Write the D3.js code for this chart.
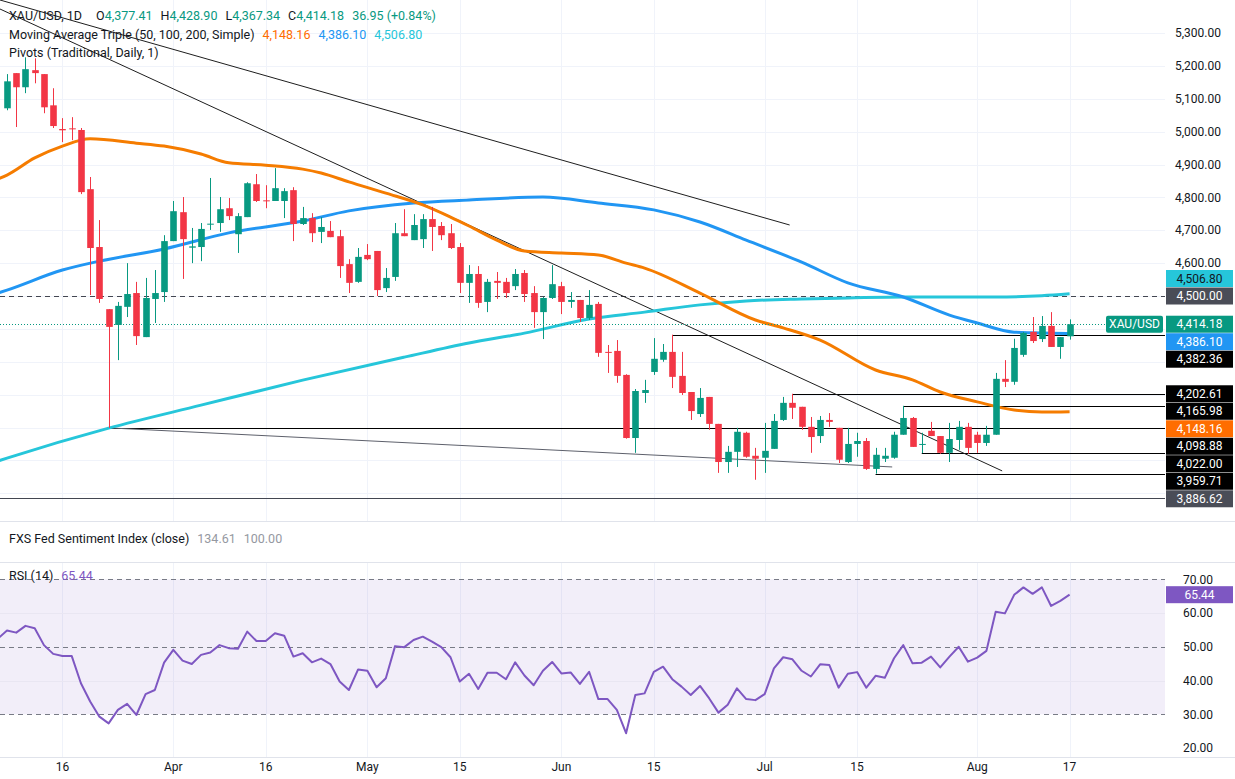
<!DOCTYPE html>
<meta charset="utf-8">
<script src="https://cdn.jsdelivr.net/npm/d3@7/dist/d3.min.js"></script>
<style>
  body { margin: 0; background: #ffffff; }
  text { font-family: Roboto, "Open Sans", sans-serif; }
</style>
<body>
<script>

// XAU/USD daily candles (first candle = Mar 6, last = Aug 17)
var open = [5071,5178,5135,5187,5175,5080,5008,5010,5005,4825,
            4649,4460,4412,4467,4509,4375,4491,4512,4667,4755,
            4647,4649,4717,4722,4767,4688,4740,4840,4791,4789,
            4789,4822,4719,4737,4695,4698,4682,4597,4543,4625,
            4637,4524,4558,4691,4670,4673,4734,4713,4691,4649,
            4540,4567,4482,4546,4543,4530,4570,4509,4451,4494,
            4530,4482,4488,4433,4476,4330,4333,4260,4068,4205,
            4269,4306,4330,4257,4208,4141,4193,4111,3995,4026,
            4084,4014,4008,4035,4123,4175,4163,4102,4074,4123,
            4099,3995,4050,4059,3974,4005,4008,4078,4129,4047,
            4090,4074,4023,4062,4102,4078,4053,4078,4248,4239,
            4321,4391,4369,4409,4345,4377.41];
var high = [5175,5178,5226,5223,5175,5132,5041,5044,5011,4862,
            4731,4460,4482,4600,4543,4555,4579,4685,4789,4801,
            4707,4722,4859,4801,4798,4752,4846,4871,4837,4889,
            4828,4831,4771,4752,4740,4728,4701,4612,4646,4658,
            4637,4585,4722,4764,4749,4749,4771,4725,4719,4661,
            4594,4591,4552,4573,4555,4582,4579,4530,4497,4594,
            4543,4512,4488,4518,4482,4351,4366,4262,4217,4245,
            4372,4354,4382.36,4330,4208,4220,4193,4111,4044,4099,
            4087,4038,4114,4141,4193,4202.61,4163,4132,4135,4144,
            4099,4099,4084,4068,4038,4038,4087,4165.98,4132,4084,
            4117,4074,4114,4120,4114,4087,4105,4266,4305,4370,
            4391,4436,4439,4451,4375,4428.90];
var low = [5065,5014,5117,5147,5056,5011,4968,4974,4810,4503,
           4479,4098.88,4305,4436,4351,4375,4418,4482,4667,4552,
           4600,4606,4701,4695,4731,4631,4740,4786,4767,4789,
           4737,4667,4716,4664,4661,4679,4555,4509,4540,4609,
           4500,4512,4546,4682,4670,4646,4637,4670,4643,4509,
           4479,4464,4451,4491,4494,4518,4482,4403,4369,4491,
           4445,4464,4421,4427,4315,4266,4236,4066,4023,4175,
           4260,4300,4220,4199,4123,4132,4093,3962,3962,3980,
           4008,3941,3962,4035,4120,4126,4093,4023,4053,4102,
           3992,3992,4011,3971,3959.71,3995,4005,4078,4041,4022,
           4074,4020,3995,4032,4020,4023,4044,4078,4223,4230,
           4315,4357,4360,4345,4309,4367.34];
var close = [5153,5135,5190,5178,5074,5017,5004,5007,4816,4646,
             4491,4406,4470,4506,4378,4494,4509,4667,4758,4673,
             4651,4704,4720,4764,4743,4743,4843,4789,4788,4828,
             4819,4719,4737,4691,4710,4679,4591,4540,4619,4612,
             4518,4555,4691,4682,4716,4734,4710,4685,4646,4540,
             4567,4479,4543,4540,4509,4567,4506,4451,4494,4536,
             4482,4488,4433,4473,4327,4327,4257,4068,4211,4214,
             4309,4330,4254,4205,4150,4190,4111,3995,4026,4087,
             4011,4005,4029,4120,4175,4160,4102,4071,4123,4117,
             4002,4050,4059,3974,4017,4014,4078,4129,4041,4050,
             4074,4023,4065,4102,4038,4053,4078,4248,4239,4342,
             4388,4363,4409,4345,4375,4414.18];

// RSI(14), one value per candle; the first value is the day before the first candle
var rsi = [52.4,
           54.8,54.2,56.2,55.5,50.5,47.9,47.3,47.3,39.2,33.8,
           29.3,27.3,31.3,33.1,29.8,36.0,37.2,45.3,49.1,45.9,
           44.9,47.6,48.3,50.5,49.6,49.4,54.5,51.7,51.7,54.0,
           53.3,47.1,48.1,45.4,46.5,44.9,39.7,37.2,43.3,42.9,
           38.0,40.7,50.2,49.9,52.0,53.0,51.5,49.9,46.9,39.7,
           42.0,37.5,42.3,42.3,40.4,45.4,41.5,38.6,42.9,45.5,
           42.1,42.4,39.0,42.6,34.5,34.5,31.3,24.4,35.7,36.2,
           42.6,44.1,40.4,38.2,35.7,38.4,34.7,30.5,32.8,37.7,
           34.5,34.2,36.0,43.6,46.9,46.3,42.9,41.2,44.8,44.6,
           37.9,42.0,42.5,37.9,41.4,40.8,46.6,50.5,45.1,45.3,
           47.1,43.9,47.1,50.0,45.6,46.8,48.8,60.4,59.9,65.4,
           67.6,65.7,67.6,62.1,63.6,65.44];

// Moving averages, read at these candle indexes
var ma50Idx = [-1,0,3,6,9,14,17,21,24,28,32,34,37,41,45,48,50,53,56,60,64,67,69,75,81,84,88,94,98,101,105,109,112,115];
var ma50Val = [4856,4868,4920,4956,4978,4965,4956,4932,4905,4898,4886,4874,4847,4813,4777,4740,4713,4670,4637,4631,4625,4600,4585,4509,4427,4403,4366,4275,4245,4208,4178,4153,4147,4148.16];
var ma100Idx = [-1,0,6,10,17,24,32,37,44,50,58,64,70,75,80,86,91,97,102,105,109,113,115];
var ma100Val = [4509,4518,4579,4606,4643,4692,4728,4759,4783,4792,4801,4783,4762,4725,4670,4603,4540,4497,4442,4418,4390,4387,4386.10];
var ma200Idx = [-1,0,11,21,32,43,50,56,63,69,75,80,86,91,97,102,107,112,115];
var ma200Val = [3998,4007,4098,4168,4244,4314,4357,4387,4430,4451,4473,4485,4491,4494,4497,4497,4497,4501,4506.80];

// Horizontal levels drawn from a swing point to the right edge
var levelVal = [4382.36, 4202.61, 4165.98, 4098.88, 4022.00, 3959.71];
var levelStart = [72, 85, 97, 11, 99, 94];

// Trend lines: start index, start price, end index, end price
var trendFrom = [[-0.76, 5400.4], [-0.76, 5373], [11, 4098.88]];
var trendTo = [[84.7, 4716], [107.7, 3968], [95.8, 3980]];

// Time axis ticks (candle index and label)
var tickIdx = [6, 18, 28, 39, 49, 60, 70, 82, 92, 105, 115];
var tickText = ["16", "Apr", "16", "May", "15", "Jun", "15", "Jul", "15", "Aug", "17"];

// Price axis ticks
var priceTicks = [5300, 5200, 5100, 5000, 4900, 4800, 4700, 4600, 4500, 4400, 4300, 4200, 4100, 4000, 3900];
var rsiTicks = [70, 60, 50, 40, 30, 20];

// Price tags on the right axis
var tagVal = [4506.80, 4500.00, 4414.18, 4386.10, 4382.36, 4202.61, 4165.98, 4148.16, 4098.88, 4022.00, 3959.71, 3886.62];
var tagKind = ["ma200", "pivotP", "last", "ma100", "level", "level", "level", "ma50", "level", "level", "level", "pivotS"];

var lastPrice = 4414.18, pivotP = 4500.00, pivotS = 3886.62;

// Styling
var up = "#089981", down = "#f23645";
var tagStyle = {
  ma200: {bg: "#26c6da", fg: "#131722"},
  pivotP: {bg: "#4a4d57", fg: "#ffffff"},
  last: {bg: "#089981", fg: "#ffffff"},
  ma100: {bg: "#2196f3", fg: "#ffffff"},
  level: {bg: "#000000", fg: "#ffffff"},
  ma50: {bg: "#ff6d00", fg: "#ffffff"},
  pivotS: {bg: "#4a4d57", fg: "#ffffff"}
};

var W = 1235, H = 779,
    plotR = 1165,
    mainBot = 521,
    rsiTop = 562, rsiBot = 757;

var fmt = d3.format(",.2f");

var svg = d3.select("body").append("svg")
    .attr("width", W)
    .attr("height", H);

var x = d3.scaleLinear().domain([0, 115]).range([7, 1069.6]);
var y = d3.scaleLinear().domain([3815.6, 5400.4]).range([mainBot, 0]);
var yr = d3.scaleLinear().domain([30, 70]).range([714.3, 579.3]);

var defs = svg.append("defs");
defs.append("clipPath").attr("id", "clipMain")
  .append("rect").attr("x", 0).attr("y", 0).attr("width", plotR).attr("height", mainBot);
defs.append("clipPath").attr("id", "clipRsi")
  .append("rect").attr("x", 0).attr("y", rsiTop).attr("width", plotR).attr("height", rsiBot - rsiTop);

//////////////// Grid ////////////////

var grid = svg.append("g");
grid.selectAll(".hg")
    .data(priceTicks)
  .enter().append("line")
    .attr("x1", 0).attr("x2", plotR)
    .attr("y1", function(d) { return Math.round(y(d)) + 0.5; })
    .attr("y2", function(d) { return Math.round(y(d)) + 0.5; })
    .attr("stroke", "#f0f3fa");

tickIdx.forEach(function(t) {
  var xx = Math.round(x(t)) + 0.5;
  grid.append("line").attr("x1", xx).attr("x2", xx).attr("y1", 0).attr("y2", mainBot).attr("stroke", "#f0f3fa");
  grid.append("line").attr("x1", xx).attr("x2", xx).attr("y1", rsiTop).attr("y2", rsiBot).attr("stroke", "#f0f3fa");
});

// pane separators
[mainBot, rsiTop, rsiBot].forEach(function(v) {
  svg.append("line").attr("x1", 0).attr("x2", W).attr("y1", v + 0.5).attr("y2", v + 0.5).attr("stroke", "#e0e3eb");
});

//////////////// Main pane ////////////////

var main = svg.append("g").attr("clip-path", "url(#clipMain)");

// pivot P (dashed) and pivot S1 (solid)
main.append("line")
    .attr("x1", 0).attr("x2", plotR)
    .attr("y1", Math.round(y(pivotP)) + 0.5).attr("y2", Math.round(y(pivotP)) + 0.5)
    .attr("stroke", "#434651").attr("stroke-dasharray", "5,4");
main.append("line")
    .attr("x1", 0).attr("x2", plotR)
    .attr("y1", Math.round(y(pivotS)) + 0.5).attr("y2", Math.round(y(pivotS)) + 0.5)
    .attr("stroke", "#434651");

// horizontal levels
main.selectAll(".level")
    .data(levelVal)
  .enter().append("line")
    .attr("x1", function(d, k) { return x(levelStart[k]); })
    .attr("x2", plotR)
    .attr("y1", function(d) { return Math.round(y(d)) + 0.5; })
    .attr("y2", function(d) { return Math.round(y(d)) + 0.5; })
    .attr("stroke", "#000000");

// trend lines
main.selectAll(".trend")
    .data(trendFrom)
  .enter().append("line")
    .attr("x1", function(d) { return x(d[0]); })
    .attr("y1", function(d) { return y(d[1]); })
    .attr("x2", function(d, k) { return x(trendTo[k][0]); })
    .attr("y2", function(d, k) { return y(trendTo[k][1]); })
    .attr("stroke", function(d, k) { return k == 2 ? "#5d606b" : "#1e1e1e"; })
    .attr("stroke-width", 1);

// moving averages
var maLine = d3.line()
  .x(function(d) { return x(d[0]); })
  .y(function(d) { return y(d[1]); })
  .curve(d3.curveMonotoneX);

function addMa(idx, val, color) {
  main.append("path")
    .datum(idx.map(function(t, k) { return [t, val[k]]; }))
    .attr("d", maLine)
    .attr("fill", "none")
    .attr("stroke", color)
    .attr("stroke-width", 3)
    .attr("stroke-linejoin", "round");
}
addMa(ma200Idx, ma200Val, "#26c6da");
addMa(ma100Idx, ma100Val, "#2196f3");
addMa(ma50Idx, ma50Val, "#f57c00");

// last price dotted line
main.append("line")
    .attr("x1", 0).attr("x2", 1105)
    .attr("y1", Math.round(y(lastPrice)) + 0.5).attr("y2", Math.round(y(lastPrice)) + 0.5)
    .attr("stroke", up).attr("stroke-dasharray", "1,2");

// candles
var candles = main.selectAll(".candle")
    .data(d3.range(close.length))
  .enter().append("g")
    .attr("fill", function(i) { return close[i] >= open[i] ? up : down; })
    .attr("stroke", function(i) { return close[i] >= open[i] ? up : down; });

candles.append("line")
    .attr("x1", function(i) { return Math.round(x(i)) + 0.5; })
    .attr("x2", function(i) { return Math.round(x(i)) + 0.5; })
    .attr("y1", function(i) { return y(high[i]); })
    .attr("y2", function(i) { return y(low[i]); });

candles.append("rect")
    .attr("stroke", "none")
    .attr("x", function(i) { return Math.round(x(i)) + 0.5 - 3.3; })
    .attr("width", 6.6)
    .attr("y", function(i) { return y(Math.max(open[i], close[i])); })
    .attr("height", function(i) { return Math.max(1, Math.abs(y(open[i]) - y(close[i]))); });

//////////////// RSI pane ////////////////

var rp = svg.append("g");
rp.append("rect")
    .attr("x", 0).attr("width", plotR)
    .attr("y", yr(70)).attr("height", yr(30) - yr(70))
    .attr("fill", "rgba(126, 87, 194, 0.1)");

[60, 40].forEach(function(v) {
  rp.append("line").attr("x1", 0).attr("x2", plotR)
    .attr("y1", Math.round(yr(v)) + 0.5).attr("y2", Math.round(yr(v)) + 0.5)
    .attr("stroke", "#e9e6f2");
});
[70, 50, 30].forEach(function(v) {
  rp.append("line").attr("x1", 0).attr("x2", plotR)
    .attr("y1", Math.round(yr(v)) + 0.5).attr("y2", Math.round(yr(v)) + 0.5)
    .attr("stroke", "#787b86").attr("stroke-dasharray", "5,4");
});

var rsiLine = d3.line()
  .x(function(d, k) { return x(k - 1); })
  .y(function(d) { return yr(d); });

rp.append("path")
    .datum(rsi)
    .attr("clip-path", "url(#clipRsi)")
    .attr("d", rsiLine)
    .attr("fill", "none")
    .attr("stroke", "#7e57c2")
    .attr("stroke-width", 2)
    .attr("stroke-linejoin", "round");

//////////////// Right axis ////////////////

// lay the tags out top-down, the pivot tag keeps its place
var tags = tagVal.map(function(v, k) { return {v: v, kind: tagKind[k], y: y(v)}; });
tags.sort(function(a, b) { return a.y - b.y; });
var gap = 17.5;
for (var k = 1; k < tags.length; k++) {
  if (tags[k].y - tags[k - 1].y < gap) {
    if (tags[k].kind == "pivotP") { tags[k - 1].y = tags[k].y - gap; }
    else { tags[k].y = tags[k - 1].y + gap; }
  }
}

var axis = svg.append("g").attr("font-size", "12px").attr("fill", "#131722");
axis.selectAll(".ptick")
    .data(priceTicks.filter(function(p) {
      return tags.every(function(t) { return Math.abs(t.y - y(p)) > 14; });
    }))
  .enter().append("text")
    .attr("x", 1198).attr("y", function(d) { return y(d); })
    .attr("dy", "0.35em")
    .attr("text-anchor", "middle")
    .text(function(d) { return fmt(d); });

var tg = svg.selectAll(".tag")
    .data(tags)
  .enter().append("g");
tg.append("rect")
    .attr("x", 1166).attr("width", 67)
    .attr("y", function(d) { return d.y - 8.5; }).attr("height", 17)
    .attr("fill", function(d) { return tagStyle[d.kind].bg; });
tg.append("text")
    .attr("x", 1199.5).attr("y", function(d) { return d.y; })
    .attr("dy", "0.35em")
    .attr("text-anchor", "middle")
    .attr("font-size", "12px")
    .attr("fill", function(d) { return tagStyle[d.kind].fg; })
    .text(function(d) { return fmt(d.v); });

// symbol label next to the last price
var lastTag = tags.filter(function(t) { return t.kind == "last"; })[0];
svg.append("rect")
    .attr("x", 1106).attr("width", 57)
    .attr("y", lastTag.y - 8.5).attr("height", 17)
    .attr("rx", 2)
    .attr("fill", up);
svg.append("text")
    .attr("x", 1134.5).attr("y", lastTag.y).attr("dy", "0.35em")
    .attr("text-anchor", "middle").attr("font-size", "12px").attr("fill", "#ffffff")
    .text("XAU/USD");

// RSI axis
axis.selectAll(".rtick")
    .data(rsiTicks)
  .enter().append("text")
    .attr("x", 1198).attr("y", function(d) { return yr(d); })
    .attr("dy", "0.35em")
    .attr("text-anchor", "middle")
    .text(function(d) { return d3.format(".2f")(d); });

var rsiLast = rsi[rsi.length - 1];
svg.append("rect")
    .attr("x", 1166).attr("width", 67)
    .attr("y", yr(rsiLast) - 8.5).attr("height", 17)
    .attr("fill", "#7e57c2");
svg.append("text")
    .attr("x", 1199.5).attr("y", yr(rsiLast)).attr("dy", "0.35em")
    .attr("text-anchor", "middle").attr("font-size", "12px").attr("fill", "#ffffff")
    .text(d3.format(".2f")(rsiLast));

// time axis
axis.selectAll(".xtick")
    .data(tickIdx)
  .enter().append("text")
    .attr("x", function(d) { return x(d); })
    .attr("y", 767)
    .attr("dy", "0.35em")
    .attr("text-anchor", "middle")
    .text(function(d, k) { return tickText[k]; });

//////////////// Legends ////////////////

function legendRow(yy, parts) {
  var t = svg.append("text").attr("x", 9).attr("y", yy).attr("dy", "0.35em").attr("font-size", "12.5px");
  parts.forEach(function(p) {
    t.append("tspan").attr("dx", p[2] || 0).attr("fill", p[1]).text(p[0]);
  });
}

legendRow(16, [["XAU/USD, 1D", "#131722"],
               ["O", "#131722", 14], ["4,377.41", up],
               ["H", "#131722", 8], ["4,428.90", up],
               ["L", "#131722", 8], ["4,367.34", up],
               ["C", "#131722", 8], ["4,414.18", up],
               ["36.95 (+0.84%)", up, 8]]);
legendRow(35, [["Moving Average Triple (50, 100, 200, Simple)", "#131722"],
               ["4,148.16", "#ff6d00", 8],
               ["4,386.10", "#2196f3", 8],
               ["4,506.80", "#26c6da", 8]]);
legendRow(53, [["Pivots (Traditional, Daily, 1)", "#131722"]]);
legendRow(539, [["FXS Fed Sentiment Index (close)", "#131722"],
                ["134.61", "#9598a1", 8],
                ["100.00", "#9598a1", 8]]);
legendRow(576, [["RSI (14)", "#131722"],
                ["65.44", "#7e57c2", 8]]);

</script>
</body>
</html>
